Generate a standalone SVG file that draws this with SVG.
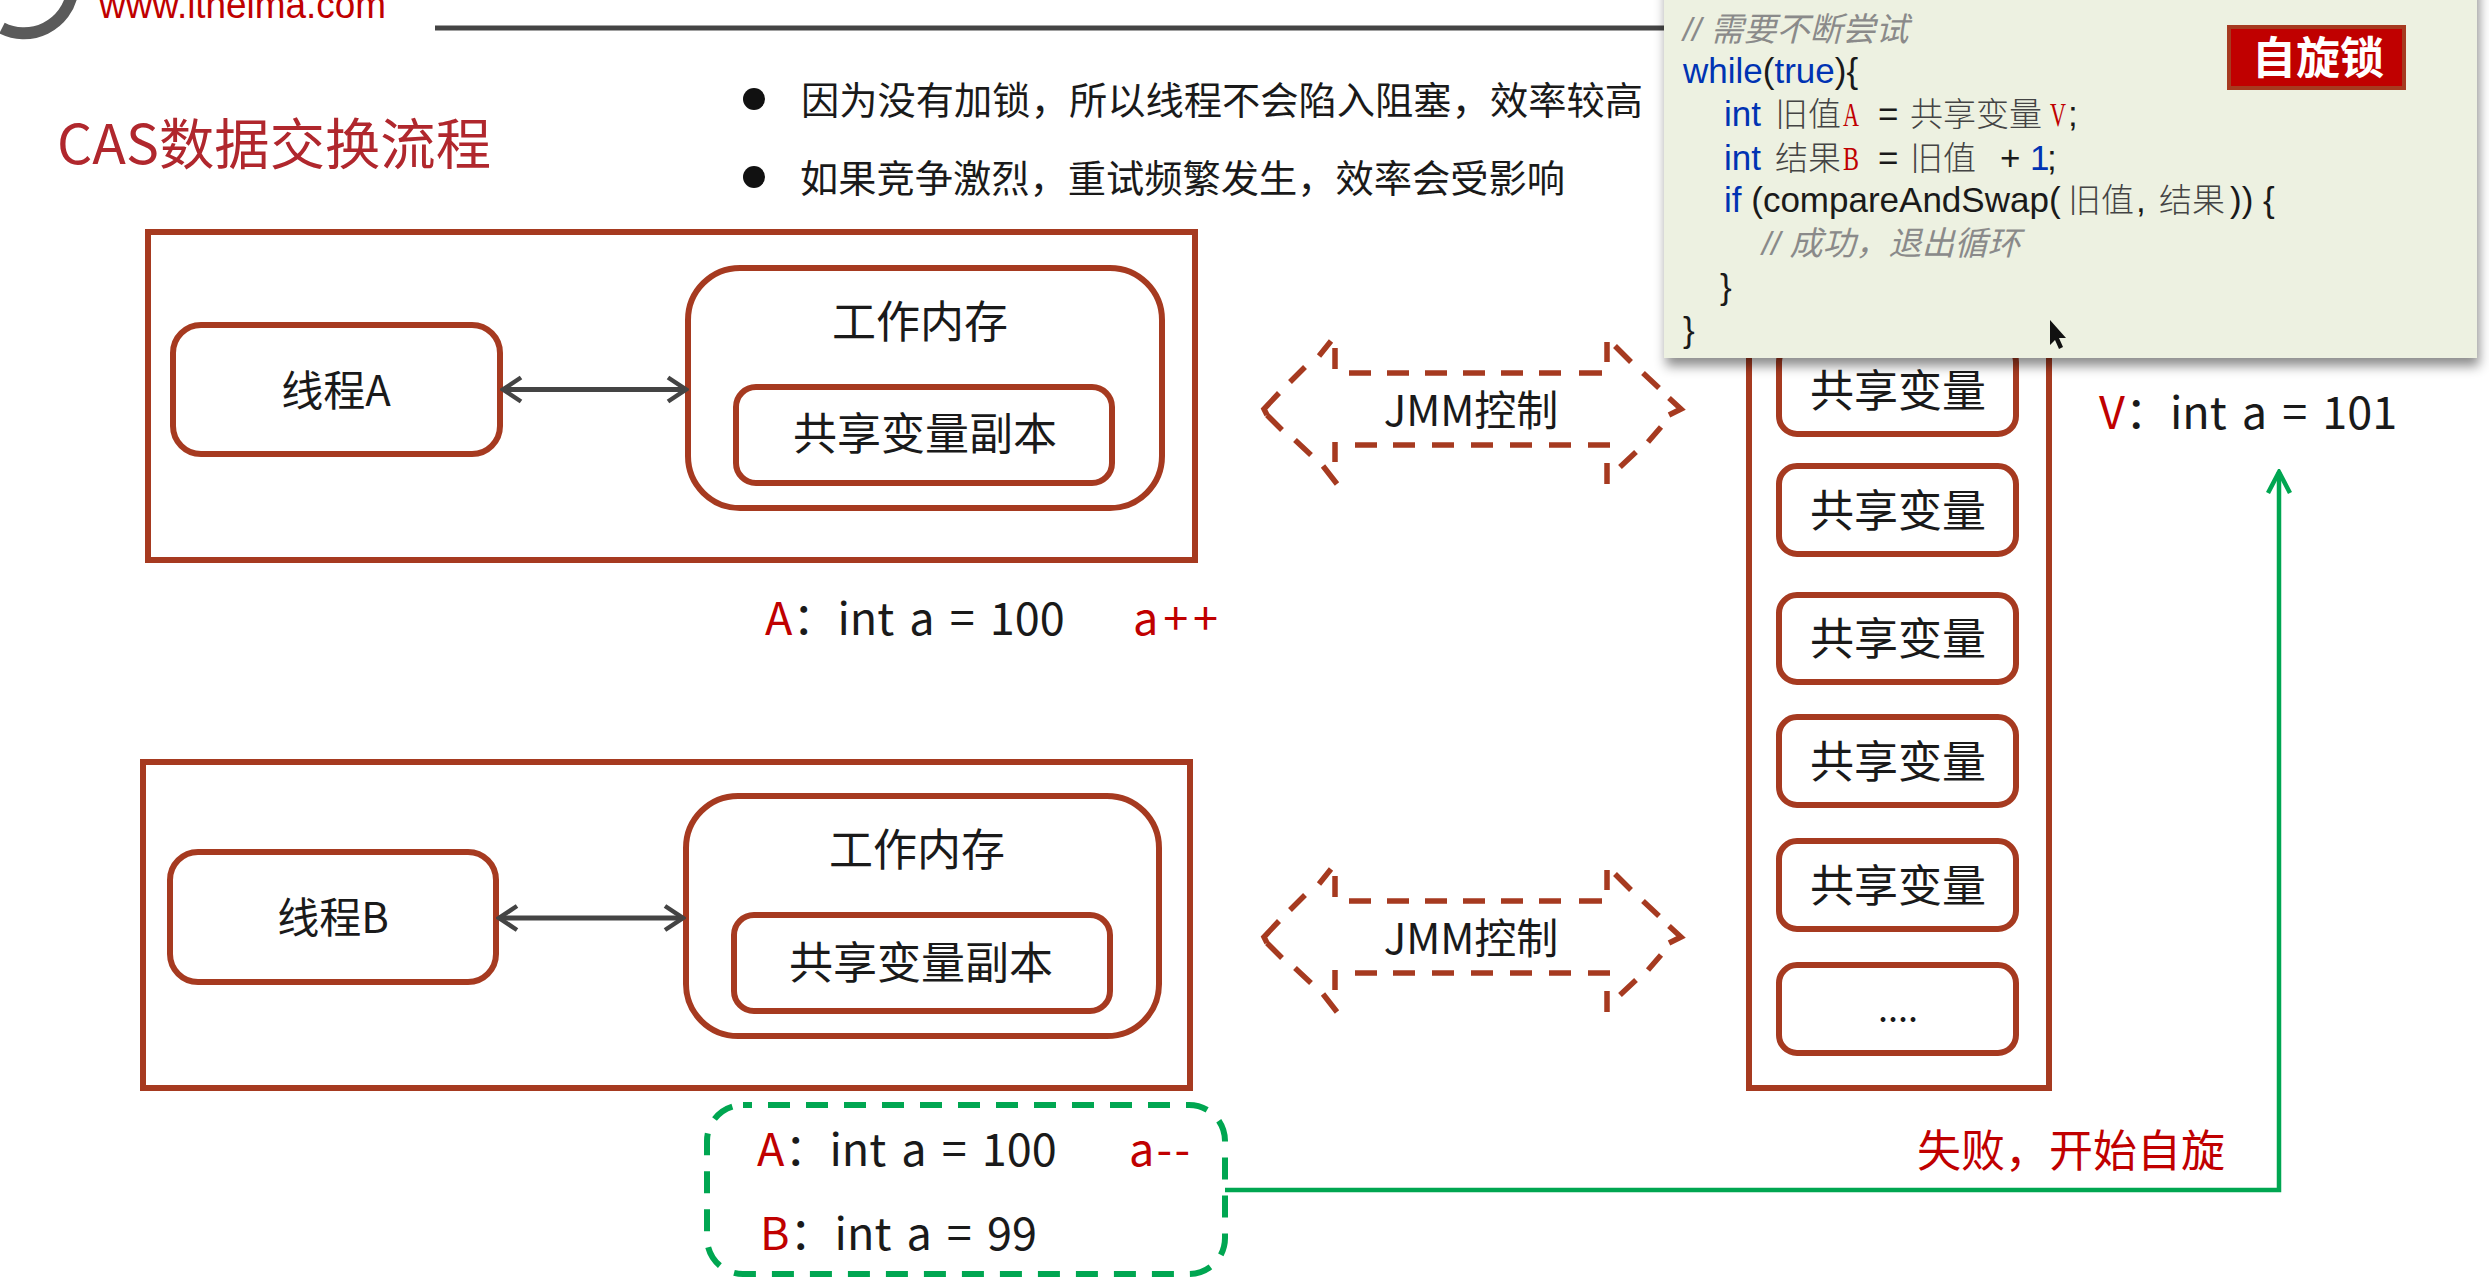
<svg xmlns="http://www.w3.org/2000/svg" width="2489" height="1285" viewBox="0 0 2489 1285">
<style>
text{font-family:"Noto Sans CJK SC","Noto Sans",sans-serif;fill:#1a1a1a}
.frame{fill:#fff;stroke:#a63a20;stroke-width:6}
.box{fill:#fff;stroke:#a63a20;stroke-width:6}
.jmm{fill:none;stroke:#a63a20;stroke-width:5.5}
.lab{font-size:44px;text-anchor:middle}
.val{font-size:45px;word-spacing:5px}
.red{fill:#c00000}
.code{font-family:"Liberation Sans",sans-serif;font-size:35px;fill:#1a1a1a}
.kw{fill:#0033b3}
.cj{font-family:"Noto Sans CJK SC",sans-serif;font-size:33px;font-weight:300;fill:#444}
.rs{font-family:"Liberation Serif",serif;font-size:33px;fill:#c00000}
.cm{font-family:"Liberation Sans","Noto Sans CJK SC",sans-serif;font-size:33px;font-style:italic;fill:#8a8a8a}
.bi{fill:none;stroke:#444;stroke-width:5}
</style>
<defs>
<marker id="ah" viewBox="0 0 24 34" refX="21" refY="17" markerWidth="24" markerHeight="34" markerUnits="userSpaceOnUse" orient="auto-start-reverse"><path d="M3 5L21 17L3 29" fill="none" stroke="#444" stroke-width="4.5"/></marker>
<marker id="gh" viewBox="0 0 26 36" refX="23" refY="18" markerWidth="26" markerHeight="36" markerUnits="userSpaceOnUse" orient="auto"><path d="M2 7L23 18L2 29" fill="none" stroke="#00a651" stroke-width="4.5"/></marker>
<filter id="sh" x="-5%" y="-5%" width="110%" height="120%"><feDropShadow dx="2" dy="8" stdDeviation="6" flood-color="#000" flood-opacity="0.45"/></filter>
<path id="jmm-shape" class="jmm" d="M1607 342V362M1615 346L1631 362M1643 373L1659 388M1669 398L1681 409L1669 415M1661 427L1648 442M1636 452L1620 467M1607 463V484M1335 442V462M1323 466L1337 484M1295 440L1311 455M1267 415L1282 430M1279 393L1264 409L1267 415M1305 367L1290 382M1331 341L1319 356M1335 348V369M1349 373H1371M1387 373H1409M1425 373H1447M1463 373H1485M1501 373H1523M1539 373H1561M1579 373H1602M1355 445H1377M1393 445H1415M1432 445H1454M1471 445H1493M1510 445H1532M1549 445H1571M1588 445H1610"/>
</defs>
<rect width="2489" height="1285" fill="#fff"/>

<g id="header">
<path d="M72 -6A49 49 0 0 1 2 28" fill="none" stroke="#5a5a5a" stroke-width="12"/>
<text x="99" y="18" font-size="38" style="font-family:'Liberation Sans',sans-serif;fill:#c00000" textLength="287" lengthAdjust="spacingAndGlyphs">www.itheima.com</text>
<rect x="435" y="25.5" width="1240" height="5" fill="#444"/>
</g>

<g id="title"><text x="57" y="164" font-size="55" style="fill:#b0272d" textLength="434" lengthAdjust="spacingAndGlyphs">CAS数据交换流程</text></g>

<g id="bullets">
<ellipse cx="754" cy="99" rx="11" ry="11" fill="#111"/>
<text x="801" y="114" font-size="38" textLength="842" lengthAdjust="spacingAndGlyphs">因为没有加锁，所以线程不会陷入阻塞，效率较高</text>
<ellipse cx="754" cy="177" rx="11" ry="11" fill="#111"/>
<text x="800" y="192" font-size="38" textLength="765" lengthAdjust="spacingAndGlyphs">如果竞争激烈，重试频繁发生，效率会受影响</text>
</g>

<g id="frame-a"><rect class="frame" x="148" y="232" width="1047" height="328"/></g>
<g id="thread-a"><rect class="box" x="173" y="325" width="327" height="129" rx="28"/><text class="lab" x="336" y="406" style="font-size:42px">线程A</text></g>
<g id="memory-a"><rect class="box" x="688" y="268" width="474" height="240" rx="52"/><text class="lab" x="920" y="338">工作内存</text></g>
<g id="copy-a"><rect class="box" x="736" y="387" width="376" height="96" rx="20"/><text class="lab" x="925" y="450">共享变量副本</text></g>

<g id="frame-b"><rect class="frame" x="143" y="762" width="1047" height="326"/></g>
<g id="thread-b"><rect class="box" x="170" y="852" width="326" height="130" rx="28"/><text class="lab" x="333" y="933" style="font-size:42px">线程B</text></g>
<g id="memory-b"><rect class="box" x="686" y="796" width="473" height="240" rx="52"/><text class="lab" x="917" y="866">工作内存</text></g>
<g id="copy-b"><rect class="box" x="734" y="915" width="376" height="96" rx="20"/><text class="lab" x="921" y="979">共享变量副本</text></g>

<g id="jmm-a"><use href="#jmm-shape"/><text class="lab" x="1471" y="426" style="font-size:42px">JMM控制</text></g>
<g id="jmm-b"><use href="#jmm-shape" transform="translate(0 528)"/><text class="lab" x="1471" y="954" style="font-size:42px">JMM控制</text></g>

<g id="main-memory"><rect class="frame" x="1749" y="330" width="300" height="758"/></g>
<g id="var-1"><rect class="box" x="1779" y="344" width="237" height="90" rx="18"/><text class="lab" x="1898" y="407">共享变量</text></g>
<g id="var-2"><rect class="box" x="1779" y="466" width="237" height="88" rx="18"/><text class="lab" x="1898" y="527">共享变量</text></g>
<g id="var-3"><rect class="box" x="1779" y="595" width="237" height="87" rx="18"/><text class="lab" x="1898" y="655">共享变量</text></g>
<g id="var-4"><rect class="box" x="1779" y="717" width="237" height="88" rx="18"/><text class="lab" x="1898" y="778">共享变量</text></g>
<g id="var-5"><rect class="box" x="1779" y="841" width="237" height="88" rx="18"/><text class="lab" x="1898" y="902">共享变量</text></g>
<g id="var-6"><rect class="box" x="1779" y="965" width="237" height="88" rx="18"/><text class="lab" x="1898" y="1022" style="font-size:36px">....</text></g>

<g id="value-v"><text class="val" x="2099" y="429"><tspan class="red">V</tspan>：int a = 101</text></g>
<g id="value-a"><text class="val" x="765" y="635"><tspan class="red">A</tspan>：int a = 100</text><text class="val red" x="1133" y="635" textLength="85">a++</text></g>
<g id="spin-box">
<rect x="707" y="1105" width="518" height="169" rx="36" fill="none" stroke="#00a651" stroke-width="6" stroke-dasharray="22 16" stroke-dashoffset="13"/>
<text class="val" x="757" y="1166"><tspan class="red">A</tspan>：int a = 100</text>
<text class="val red" x="1129" y="1166" textLength="61">a--</text>
<text class="val" x="760" y="1250"><tspan class="red">B</tspan>：int a = 99</text>
</g>
<g id="fail-label"><text class="red" x="1917" y="1167" font-size="44">失败，开始自旋</text></g>

<g id="connectors">
<path d="M503 389.5H686" class="bi" marker-start="url(#ah)" marker-end="url(#ah)"/>
<path d="M499 918H683" class="bi" marker-start="url(#ah)" marker-end="url(#ah)"/>
<path d="M1225 1190H2279V472" fill="none" stroke="#00a651" stroke-width="4.5" marker-end="url(#gh)"/>
</g>

<g id="code-popup">
<rect x="1664" y="-20" width="813" height="378" fill="#edf1e1" filter="url(#sh)"/>
<text class="cm" x="1683" y="41">// 需要不断尝试</text>
<text class="code" x="1683" y="83"><tspan class="kw">while</tspan>(<tspan class="kw">true</tspan>){</text>
<text class="code kw" x="1724" y="126" style="fill:#0033b3">int</text>
<text class="cj" x="1775" y="126">旧值</text><text class="rs" x="1843" y="126" textLength="16" lengthAdjust="spacingAndGlyphs">A</text><text class="code" x="1878" y="126">=</text><text class="cj" x="1910" y="126">共享变量</text><text class="rs" x="2050" y="126" textLength="16" lengthAdjust="spacingAndGlyphs">V</text><text class="code" x="2068" y="126">;</text>
<text class="code kw" x="1724" y="170" style="fill:#0033b3">int</text>
<text class="cj" x="1775" y="170">结果</text><text class="rs" x="1843" y="170" textLength="16" lengthAdjust="spacingAndGlyphs">B</text><text class="code" x="1878" y="170">=</text><text class="cj" x="1910" y="170">旧值</text><text class="code" x="2000" y="170">+</text><text class="code" x="2030" y="170" style="fill:#0033b3">1</text><text class="code" x="2047" y="170">;</text>
<text class="code" x="1724" y="212"><tspan class="kw">if</tspan> (compareAndSwap(</text>
<text class="cj" x="2068" y="212">旧值</text><text class="code" x="2136" y="212">,</text><text class="cj" x="2159" y="212">结果</text><text class="code" x="2230" y="212">)) {</text>
<text class="cm" x="1762" y="255">// 成功，退出循环</text>
<text class="code" x="1720" y="299">}</text>
<text class="code" x="1683" y="342">}</text>
<path d="M2050 320L2050 345L2055 340L2059 349L2063 347L2059 338L2066 338Z" fill="#111"/>
</g>

<g id="spin-badge">
<rect x="2229" y="27" width="175" height="61" fill="#c00000" stroke="#a63a20" stroke-width="4"/>
<text x="2318" y="74" text-anchor="middle" font-size="44" style="fill:#fff;font-weight:700">自旋锁</text>
</g>
</svg>
